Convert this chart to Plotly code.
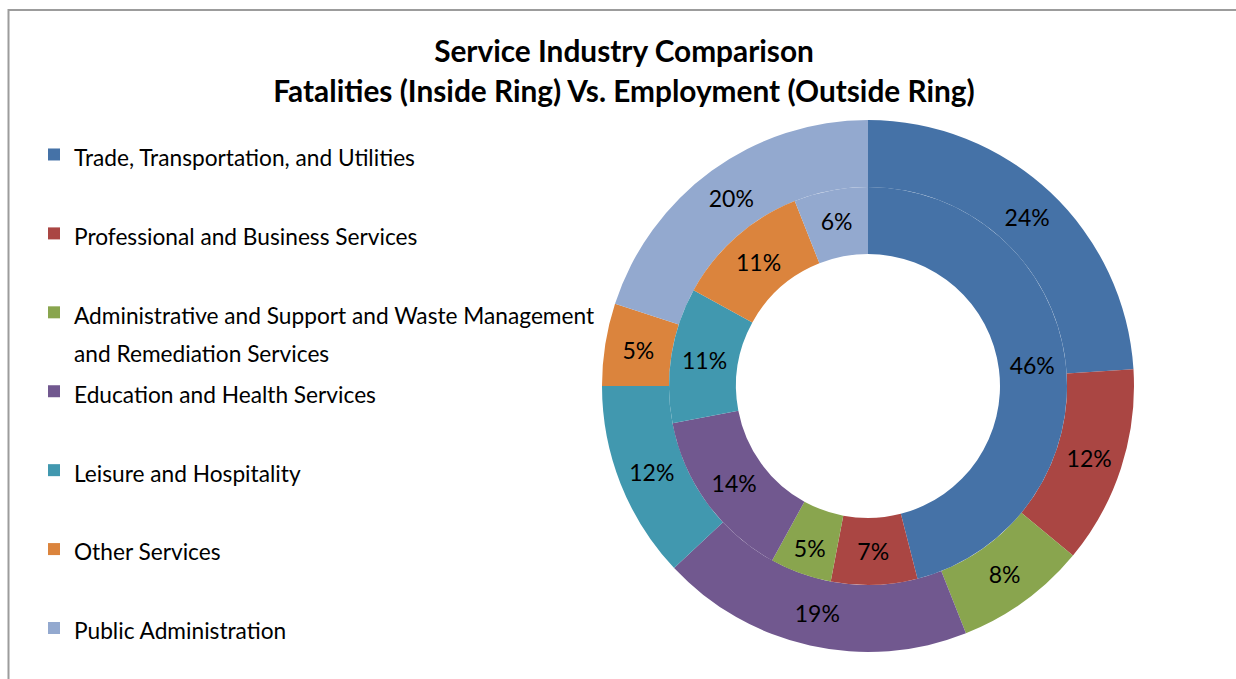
import plotly.graph_objects as go

categories = [
    "Trade, Transportation, and Utilities",
    "Professional and Business Services",
    "Administrative and Support and Waste Management<br>and Remediation Services",
    "Education and Health Services",
    "Leisure and Hospitality",
    "Other Services",
    "Public Administration",
]
employment_pct = [24, 12, 8, 19, 12, 5, 20]   # outside ring
fatalities_pct = [46, 7, 5, 14, 11, 11, 6]    # inside ring
colors = ["#4572A7", "#AA4643", "#89A54E", "#71588F", "#4198AF", "#DB843D", "#93A9CF"]

title_lines = ["Service Industry Comparison",
               "Fatalities (Inside Ring) Vs. Employment (Outside Ring)"]

W, H = 1236, 679
FONT = "Lato"
LEG_FS = 22.7
LEG_LINE = 29.2   # sets legend line pitch


def leg_label(c):
    parts = c.split("<br>")
    spans = "<br>".join(f"<span style='font-size:{LEG_FS}px'>{p}</span>" for p in parts)
    if len(parts) == 1:
        spans += "<br> "
    return spans


legend_labels = [leg_label(c) for c in categories]

# geometry (pixels)
cx, cy = 868, 386
r_out, r_mid, r_in = 266, 199, 132


def dom(r):
    return dict(x=[(cx - r) / W, (cx + r) / W], y=[1 - (cy + r) / H, 1 - (cy - r) / H])


fig = go.Figure()
fig.add_trace(go.Pie(
    labels=legend_labels, values=employment_pct, sort=False, direction="clockwise",
    rotation=0, hole=r_mid / r_out, domain=dom(r_out),
    marker=dict(colors=colors, line=dict(width=0)),
    texttemplate="%{value}%", textposition="inside", insidetextorientation="horizontal",
    textfont=dict(family=FONT, size=23, color="#000000"),
    hoverinfo="label+value", showlegend=True, name="Employment",
))
fig.add_trace(go.Pie(
    labels=legend_labels, values=fatalities_pct, sort=False, direction="clockwise",
    rotation=0, hole=r_in / r_mid, domain=dom(r_mid),
    marker=dict(colors=colors, line=dict(width=0)),
    texttemplate="%{value}%", textposition="inside", insidetextorientation="horizontal",
    textfont=dict(family=FONT, size=23, color="#000000"),
    hoverinfo="label+value", showlegend=False, name="Fatalities",
))

TITLE_FS = 29.8
title_text = "<br>".join(f"<span style='font-size:{TITLE_FS}px'>{t}</span>" for t in title_lines)

fig.update_layout(
    width=W, height=H,
    margin=dict(l=0, r=0, t=0, b=0, autoexpand=False),
    paper_bgcolor="white", plot_bgcolor="white",
    font=dict(family=FONT, color="#000000"),
    title=dict(text=title_text, x=624 / W, xanchor="center", y=1 - 62 / H, yanchor="top",
               font=dict(family=FONT, size=31, color="#000000", weight="bold")),
    legend=dict(x=34 / W, xanchor="left", y=1 - 129 / H, yanchor="top",
                font=dict(family=FONT, size=LEG_LINE, color="#000000"),
                valign="top", traceorder="normal", bgcolor="rgba(0,0,0,0)"),
    uniformtext=dict(minsize=23, mode="show"),
    shapes=[dict(type="rect", xref="paper", yref="paper",
                 x0=8.5 / W, x1=1.02, y0=-0.02, y1=1 - 10 / H,
                 line=dict(color="#9C9C9C", width=2), fillcolor="rgba(0,0,0,0)", layer="below")],
)

fig.write_html("out.html")
